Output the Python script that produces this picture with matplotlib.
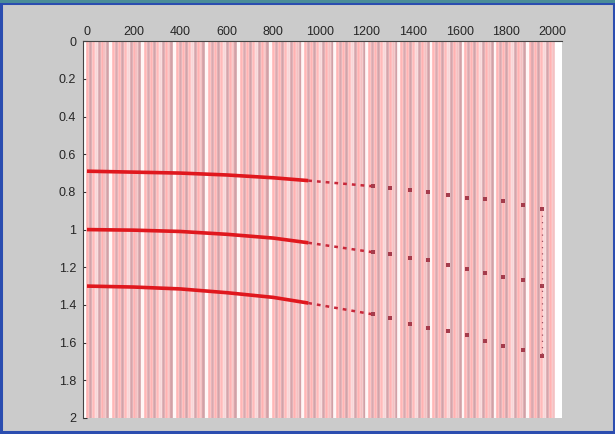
import numpy as np
import matplotlib.pyplot as plt
from matplotlib.patches import Rectangle

# trace positions (offset) -- one thin trace every 12.5 units
trace_off = np.arange(0, 2010, 12.5)
trace_cols = ['#ffb4b4', '#d4a2a8', '#ffbaba', '#f8d6d8', '#d6a4aa', '#ffb2b2',
              '#f4c0c2', '#d2a0a6', '#fff6f6', '#ffb6b6', '#dba8ae']

# three reflections
near_off = [0, 200, 400, 600, 800, 950]
ev1_near = [0.69, 0.695, 0.70, 0.71, 0.725, 0.74]
ev2_near = [1.00, 1.003, 1.01, 1.025, 1.045, 1.07]
ev3_near = [1.30, 1.305, 1.315, 1.335, 1.36, 1.39]

far_off = [1227, 1300, 1386, 1464, 1549, 1631, 1708, 1785, 1871, 1953]
ev1_far = [0.77, 0.78, 0.79, 0.80, 0.815, 0.83, 0.84, 0.85, 0.87, 0.89]
ev2_far = [1.12, 1.13, 1.15, 1.16, 1.19, 1.21, 1.23, 1.25, 1.27, 1.30]
ev3_far = [1.45, 1.47, 1.50, 1.52, 1.54, 1.56, 1.59, 1.62, 1.64, 1.67]

xticks = [0, 200, 400, 600, 800, 1000, 1200, 1400, 1600, 1800, 2000]
yticks = [0, 0.2, 0.4, 0.6, 0.8, 1, 1.2, 1.4, 1.6, 1.8, 2]

plt.rcParams['font.family'] = ['Liberation Sans', 'DejaVu Sans']

fig = plt.figure(figsize=(6.15, 4.34), dpi=100, facecolor='#cbcbcb')
# window frame
fig.patches.append(Rectangle((0.002, 0.004), 0.996, 0.99, transform=fig.transFigure,
                             fill=False, edgecolor='#2b4db0', linewidth=2.2))
fig.patches.append(Rectangle((0, 0.994), 1, 0.006, transform=fig.transFigure,
                             facecolor='#4a8c98', edgecolor='none'))

ax = fig.add_axes([0.135, 0.037, 0.779, 0.868])
ax.set_facecolor('white')

cols = [trace_cols[i % len(trace_cols)] for i in range(len(trace_off))]
ax.vlines(trace_off, 0, 2, colors=cols, linewidth=1.9)

for near, far in [(ev1_near, ev1_far), (ev2_near, ev2_far), (ev3_near, ev3_far)]:
    ax.plot(near_off, near, color='#e0181e', linewidth=2.6, solid_capstyle='butt')
    ax.plot([near_off[-1], far_off[0]], [near[-1], far[0]], color='#c8283a',
            linewidth=1.8, linestyle=(0, (1.5, 2)))
    ax.plot(far_off, far, 's', markersize=2.2, color='#a53c4c', markeredgewidth=0)

ax.vlines(far_off[-1], ev1_far[-1], ev3_far[-1], colors='#a05060', linewidth=0.9,
          linestyles=(0, (1, 4)))

ax.set_xlim(-17, 2040)
ax.set_ylim(2, 0)
ax.xaxis.tick_top()
ax.set_xticks(xticks)
ax.set_yticks(yticks)
ax.set_yticklabels([f'{v:g}' for v in yticks])
ax.tick_params(direction='in', length=3, width=0.8, labelsize=9, colors='#333333',
               labelcolor='#262626')
ax.tick_params(axis='x', pad=2)
ax.tick_params(axis='y', pad=5)
for s in ['right', 'bottom']:
    ax.spines[s].set_visible(False)
for s in ['left', 'top']:
    ax.spines[s].set_color('#444444')
    ax.spines[s].set_linewidth(0.8)

fig.savefig('out.png', dpi=100, facecolor=fig.get_facecolor())
